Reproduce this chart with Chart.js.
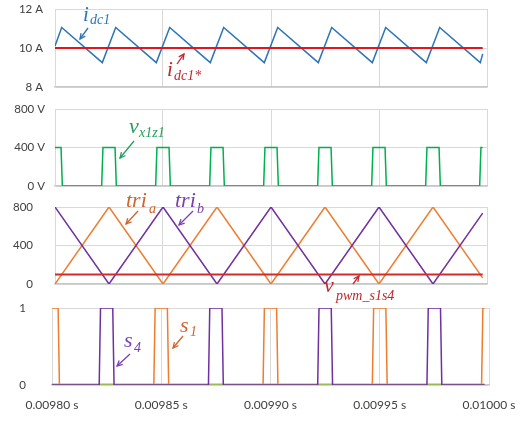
<!DOCTYPE html>
<html>
<head>
<meta charset="utf-8">
<script src="https://cdn.jsdelivr.net/npm/chart.js@4.4.1/dist/chart.umd.min.js"></script>
<style>
  body { margin: 0; background: #fff; }
  #wrap { position: relative; width: 532px; height: 421px; }
  #wrap canvas { position: absolute; left: 0; top: 0; }
  #clip1 { position: absolute; left: 0; top: 0; width: 532px; height: 91px; overflow: hidden; }
</style>
</head>
<body>
<div id="wrap">
  <canvas id="p4" width="532" height="421"></canvas>
  <canvas id="p3" width="532" height="421"></canvas>
  <canvas id="p2" width="532" height="421"></canvas>
  <div id="clip1"><canvas id="p1" width="532" height="421"></canvas></div>
</div>
<script>
// x axis (seconds)
const xTicks = [0.00980, 0.00985, 0.00990, 0.00995, 0.01000];
const xLabels = ['0.00980 s', '0.00985 s', '0.00990 s', '0.00995 s', '0.01000 s'];

// panel 1: DC current and its reference
const idcTimes = [0.0098000, 0.0098031, 0.0098219, 0.0098281, 0.0098469, 0.0098531, 0.0098719, 0.0098781, 0.0098969,
                  0.0099031, 0.0099219, 0.0099281, 0.0099469, 0.0099531, 0.0099719, 0.0099781, 0.0099969, 0.0099980];
const idcValues = [10.1, 11.05, 9.25, 11.05, 9.25, 11.05, 9.25, 11.05, 9.25,
                   11.05, 9.25, 11.05, 9.25, 11.05, 9.25, 11.05, 9.25, 9.7];
const idcRef = 10;
const yTicks1 = [8, 10, 12];
const yLabels1 = ['8 A', '10 A', '12 A'];

// panel 2: v_x1z1
const vxTimes = [0.0098000, 0.0098028, 0.0098034,
                 0.0098216, 0.0098222, 0.0098278, 0.0098284,
                 0.0098466, 0.0098472, 0.0098528, 0.0098534,
                 0.0098716, 0.0098722, 0.0098778, 0.0098784,
                 0.0098966, 0.0098972, 0.0099028, 0.0099034,
                 0.0099216, 0.0099222, 0.0099278, 0.0099284,
                 0.0099466, 0.0099472, 0.0099528, 0.0099534,
                 0.0099716, 0.0099722, 0.0099778, 0.0099784,
                 0.0099966, 0.0099972, 0.0099980];
const vxValues = [400, 400, 0,
                  0, 400, 400, 0,
                  0, 400, 400, 0,
                  0, 400, 400, 0,
                  0, 400, 400, 0,
                  0, 400, 400, 0,
                  0, 400, 400, 0,
                  0, 400, 400, 0,
                  0, 400, 400];
const yTicks2 = [0, 400, 800];
const yLabels2 = ['0 V', '400 V', '800 V'];

// panel 3: carriers and modulating signal
const triTimes = [0.009800, 0.009825, 0.009850, 0.009875, 0.009900, 0.009925, 0.009950, 0.009975, 0.009998];
const triA = [0, 800, 0, 800, 0, 800, 0, 800, 64];
const triB = [800, 0, 800, 0, 800, 0, 800, 0, 736];
const vPwm = 100;
const yTicks3 = [0, 400, 800];
const yLabels3 = ['0', '400', '800'];

// panel 4: gate signals
const s1Times = [0.0098000, 0.0098028, 0.0098034, 0.0098466, 0.0098472, 0.0098528, 0.0098534, 0.0098966, 0.0098972,
                 0.0099028, 0.0099034, 0.0099466, 0.0099472, 0.0099528, 0.0099534, 0.0099966, 0.0099972, 0.0099980];
const s1Values = [1, 1, 0, 0, 1, 1, 0, 0, 1, 1, 0, 0, 1, 1, 0, 0, 1, 1];
const s4Times = [0.0098000, 0.0098216, 0.0098222, 0.0098278, 0.0098284, 0.0098716, 0.0098722, 0.0098778, 0.0098784,
                 0.0099216, 0.0099222, 0.0099278, 0.0099284, 0.0099716, 0.0099722, 0.0099778, 0.0099784, 0.0099980];
const s4Values = [0, 0, 1, 1, 0, 0, 1, 1, 0, 0, 1, 1, 0, 0, 1, 1, 0, 0];
const zeroTimes = [0.0098000, 0.0099980];
const zeroValues = [0, 0];
const yTicks4 = [0, 1];
const yLabels4 = ['0', '1'];

const pts = (ts, vs) => ts.map((t, i) => ({x: t, y: vs[i]}));
const flat = (v) => [{x: 0.0098, y: v}, {x: 0.009998, y: v}];

// text labels with arrows drawn on top of each panel
const notesPlugin = {
  id: 'notes',
  afterDatasetsDraw(chart, args, opts) {
    const ctx = chart.ctx;
    (opts.items || []).forEach(n => {
      ctx.save();
      ctx.fillStyle = n.color;
      ctx.strokeStyle = n.color;
      ctx.textBaseline = 'alphabetic';
      ctx.textAlign = 'left';
      ctx.font = 'italic ' + n.size + 'px "Liberation Serif"';
      ctx.fillText(n.main, n.x, n.y);
      ctx.font = 'italic ' + n.subSize + 'px "Liberation Serif"';
      ctx.fillText(n.sub, n.sx, n.sy);
      const [x1, y1, x2, y2] = n.arrow;
      ctx.lineWidth = 1.3;
      ctx.beginPath();
      ctx.moveTo(x1, y1);
      ctx.lineTo(x2, y2);
      ctx.stroke();
      const a = Math.atan2(y2 - y1, x2 - x1);
      const h = 6;
      ctx.beginPath();
      ctx.moveTo(x2 - h * Math.cos(a - 0.45), y2 - h * Math.sin(a - 0.45));
      ctx.lineTo(x2, y2);
      ctx.lineTo(x2 - h * Math.cos(a + 0.45), y2 - h * Math.sin(a + 0.45));
      ctx.stroke();
      ctx.restore();
    });
  }
};

const tickFont = {family: 'Lato', size: 12};
const gridColor = '#D9D9D9';

function makePanel(id, cfg) {
  const showX = !!cfg.showX;
  new Chart(document.getElementById(id), {
    type: 'line',
    data: {datasets: cfg.datasets},
    plugins: [notesPlugin],
    options: {
      responsive: false,
      animation: false,
      devicePixelRatio: 1,
      layout: {padding: {left: 0, right: 532 - cfg.right, top: cfg.top, bottom: cfg.bottom}},
      elements: {point: {radius: 0}, line: {tension: 0, borderWidth: 1.5}},
      plugins: {
        legend: {display: false},
        tooltip: {enabled: false},
        notes: {items: cfg.notes}
      },
      scales: {
        x: {
          type: 'linear',
          min: xTicks[0],
          max: xTicks[xTicks.length - 1],
          afterBuildTicks: s => { s.ticks = xTicks.map(v => ({value: v})); },
          afterFit: s => { if (showX) s.height = 36; },
          grid: {color: gridColor, drawTicks: false},
          border: {color: '#C8C8C8', width: 1.5},
          ticks: {
            display: showX,
            autoSkip: false,
            maxRotation: 0,
            padding: 13,
            font: tickFont,
            color: '#404040',
            callback: (v, i) => xLabels[i]
          }
        },
        y: {
          min: cfg.yTicks[0],
          max: cfg.yTicks[cfg.yTicks.length - 1],
          afterBuildTicks: s => { s.ticks = cfg.yTicks.map(v => ({value: v})); },
          afterFit: s => { s.width = cfg.left; s.paddingTop = 0; s.paddingBottom = 0; },
          grid: {color: gridColor, drawTicks: false},
          border: {color: gridColor},
          ticks: {
            padding: cfg.tickPad,
            font: {family: 'Lato', size: 11.5},
            color: '#404040',
            callback: (v, i) => cfg.yLabels[i]
          }
        }
      }
    }
  });
}

makePanel('p1', {
  left: 55, right: 487, top: 9, bottom: 421 - 87, tickPad: 12,
  yTicks: yTicks1, yLabels: yLabels1,
  datasets: [
    {data: flat(idcRef), borderColor: '#E3141C', borderWidth: 2},
    {data: pts(idcTimes, idcValues), borderColor: '#2E75B6'}
  ],
  notes: [
    {main: 'i', x: 83, y: 21, size: 21, sub: 'dc1', sx: 90, sy: 24, subSize: 14, color: '#2E75B6', arrow: [88, 28, 80, 39]},
    {main: 'i', x: 167, y: 76, size: 21, sub: 'dc1*', sx: 174, sy: 80, subSize: 14, color: '#C0272D', arrow: [177, 64, 184, 54]}
  ]
});

makePanel('p2', {
  left: 55, right: 487, top: 109, bottom: 421 - 186, tickPad: 10,
  yTicks: yTicks2, yLabels: yLabels2,
  datasets: [
    {data: pts(vxTimes, vxValues), borderColor: '#00B050'}
  ],
  notes: [
    {main: 'v', x: 129, y: 133, size: 22, sub: 'x1z1', sx: 139, sy: 137, subSize: 14, color: '#22A05A', arrow: [134, 141, 120, 158]}
  ]
});

makePanel('p3', {
  left: 55, right: 487, top: 207, bottom: 421 - 284, tickPad: 22,
  yTicks: yTicks3, yLabels: yLabels3,
  datasets: [
    {data: flat(vPwm), borderColor: '#D42A2A', borderWidth: 2},
    {data: pts(triTimes, triB), borderColor: '#7030A0'},
    {data: pts(triTimes, triA), borderColor: '#ED7D31'}
  ],
  notes: [
    {main: 'tri', x: 126, y: 207, size: 22, sub: 'a', sx: 149, sy: 213, subSize: 14, color: '#D0642C', arrow: [138, 211, 126, 224]},
    {main: 'tri', x: 175, y: 207, size: 22, sub: 'b', sx: 197, sy: 213, subSize: 14, color: '#7B3FB0', arrow: [193, 211, 179, 225]},
    {main: 'v', x: 324, y: 292, size: 22, sub: 'pwm_s1s4', sx: 336, sy: 300, subSize: 14, color: '#C0272D', arrow: [353, 284, 359, 276]}
  ]
});

makePanel('p4', {
  left: 52, right: 489, top: 308, bottom: 0, tickPad: 26, showX: true,
  yTicks: yTicks4, yLabels: yLabels4,
  datasets: [
    {data: pts(s4Times, s4Values), borderColor: '#7030A0'},
    {data: pts(zeroTimes, zeroValues), borderColor: '#9BBB59', borderWidth: 3},
    {data: pts(s1Times, s1Values), borderColor: '#ED7D31'}
  ],
  notes: [
    {main: 's', x: 180, y: 332, size: 22, sub: '1', sx: 190, sy: 336, subSize: 14, color: '#D0642C', arrow: [183, 336, 173, 348]},
    {main: 's', x: 124, y: 347, size: 22, sub: '4', sx: 134, sy: 352, subSize: 14, color: '#7B3FB0', arrow: [130, 354, 117, 366]}
  ]
});
</script>
</body>
</html>
